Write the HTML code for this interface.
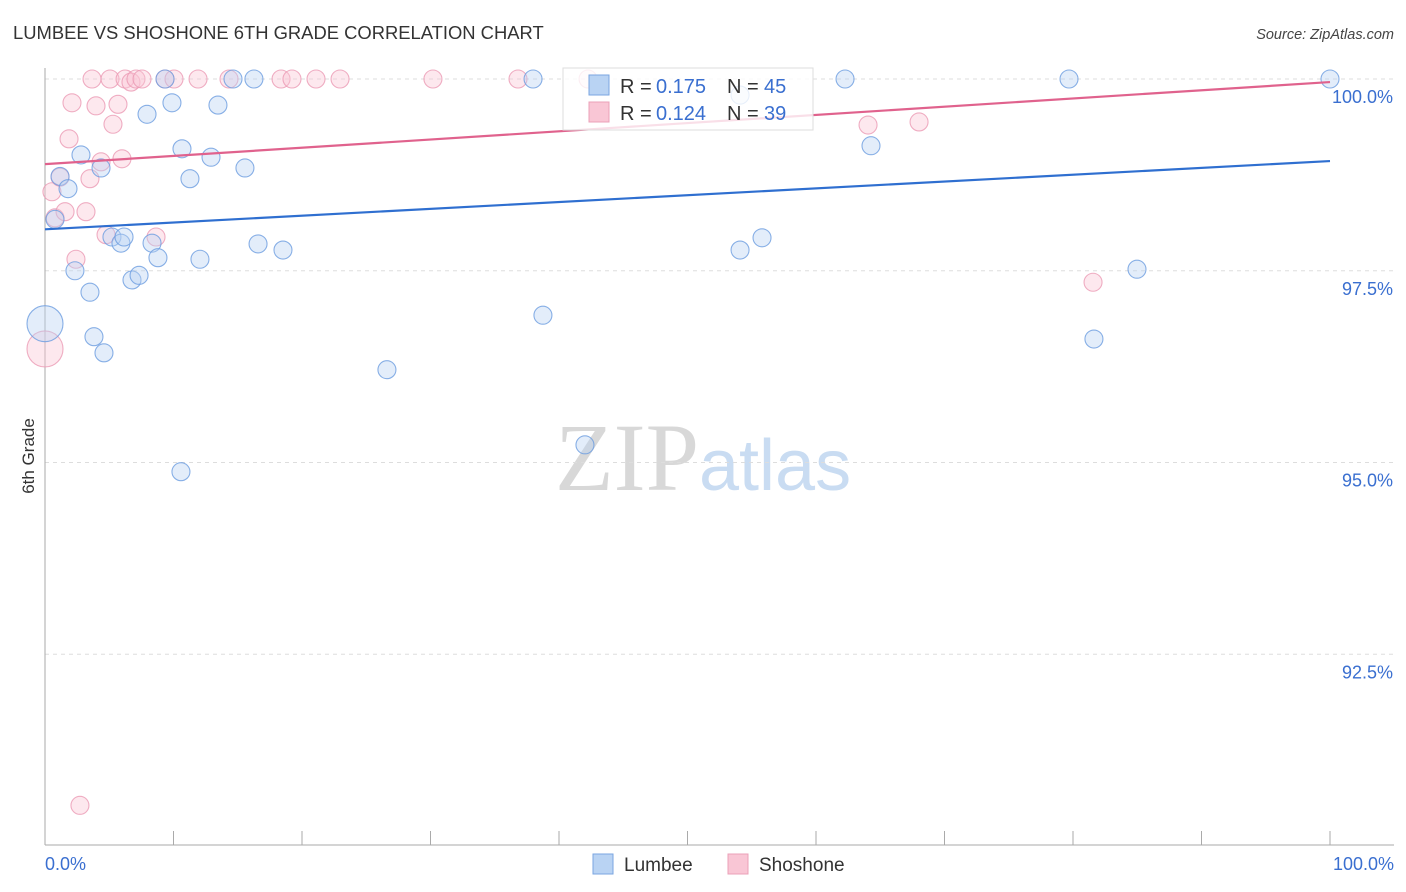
<!DOCTYPE html>
<html><head><meta charset="utf-8"><style>
body{margin:0;background:#fff;font-family:"Liberation Sans",sans-serif;}
svg{display:block}
</style></head><body>
<svg id="chart" width="1406" height="892" xmlns="http://www.w3.org/2000/svg">
<text x="13" y="39" font-size="18.4" fill="#333" font-family="Liberation Sans,sans-serif">LUMBEE VS SHOSHONE 6TH GRADE CORRELATION CHART</text>
<text x="1394" y="39" font-size="14.5" fill="#444" text-anchor="end" font-style="italic">Source: ZipAtlas.com</text>
<text x="555" y="490" font-size="96"><tspan fill="#d8d8d8" font-family="Liberation Serif,serif">ZIP</tspan><tspan fill="#c9dcf2" font-family="Liberation Sans,sans-serif" font-size="72">atlas</tspan></text>
<g id="grid"></g>
<g id="axes"></g>
<g id="pts"></g>
<g id="trend"></g>
<text transform="translate(34,456) rotate(-90)" font-size="17" fill="#333" text-anchor="middle">6th Grade</text>
<g>
<rect x="563" y="68" width="250" height="62" fill="#fff" fill-opacity="0.8" stroke="#ddd"/>
<rect x="589" y="75" width="20" height="20" fill="#b9d3f3" stroke="#7aa6e0"/>
<text x="620" y="93" font-size="20" fill="#333">R =</text><text x="656" y="93" font-size="20" fill="#3a6fd0">0.175</text>
<text x="727" y="93" font-size="20" fill="#333">N =</text><text x="764" y="93" font-size="20" fill="#3a6fd0">45</text>
<rect x="589" y="102" width="20" height="20" fill="#f9c6d5" stroke="#eba0b8"/>
<text x="620" y="120" font-size="20" fill="#333">R =</text><text x="656" y="120" font-size="20" fill="#3a6fd0">0.124</text>
<text x="727" y="120" font-size="20" fill="#333">N =</text><text x="764" y="120" font-size="20" fill="#3a6fd0">39</text>
</g>
<g>
<rect x="593" y="854" width="20" height="20" fill="#b9d3f3" stroke="#7aa6e0"/>
<text x="624" y="871" font-size="19" fill="#333">Lumbee</text>
<rect x="728" y="854" width="20" height="20" fill="#f9c6d5" stroke="#eba0b8"/>
<text x="759" y="871" font-size="19" fill="#333">Shoshone</text>
</g>
</svg>
<script>
const yTicks=[100,97.5,95,92.5];
const yTickLabels=["100.0%","97.5%","95.0%","92.5%"];
const xTickLabels=["0.0%","100.0%"];
const lumbeeX=[0,0.78,1.17,1.79,2.33,2.8,3.5,3.81,4.36,4.59,5.21,5.91,6.15,6.77,7.32,7.94,8.33,8.79,9.34,9.88,10.58,10.66,11.28,12.06,12.92,13.46,14.63,15.56,16.26,16.58,18.52,26.61,37.98,38.75,42.02,54.09,54.09,55.8,62.26,64.28,79.69,81.63,84.98,100];
const lumbeeY=[96.81,98.17,98.73,98.57,97.5,99.01,97.22,96.64,98.84,96.43,97.94,97.86,97.94,97.38,97.44,99.54,97.86,97.67,100,99.69,94.88,99.09,98.7,97.65,98.98,99.66,100,98.84,100,97.85,97.77,96.21,100,96.92,95.23,99.79,97.77,97.93,100,99.13,100,96.61,97.52,100];
const shoshoneX=[0,0.54,0.78,1.17,1.56,1.87,2.1,2.41,2.72,3.19,3.5,3.66,3.97,4.36,4.75,5.06,5.29,5.68,5.99,6.23,6.69,7.08,7.55,8.64,9.34,10.04,11.91,14.32,18.37,19.22,21.09,22.96,30.19,36.81,42.26,64.05,68.02,81.56];
const shoshoneY=[96.48,98.53,98.19,98.72,98.27,99.22,99.69,97.65,90.53,98.27,98.7,100,99.65,98.92,97.97,100,99.41,99.67,98.96,100,99.96,100,100,97.94,100,100,100,100,100,100,100,100,100,100,100,99.4,99.44,97.35];
const lumbeeTrend=[98.04,98.93];
const shoshoneTrend=[98.89,99.96];
const sx=v=>45+v*12.85;
const sy=v=>79+(100-v)*76.7;
const NS="http://www.w3.org/2000/svg";
function mk(tag,attrs,parent){const e=document.createElementNS(NS,tag);for(const k in attrs)e.setAttribute(k,attrs[k]);document.getElementById(parent).appendChild(e);return e;}
yTicks.forEach((t,i)=>{
 const g=mk('line',{x1:45,x2:1394,y1:sy(t),y2:sy(t),stroke:'#ddd','stroke-dasharray':'4,4'},'grid');
 
 
 const l=mk('text',{x:1393,y:sy(t)+24,'font-size':18,fill:'#3a6fd0','text-anchor':'end'},'grid');
 l.textContent=yTickLabels[i];
 
 
});
const ya=mk('line',{x1:45,x2:45,y1:68,y2:845,stroke:'#aaa'},'axes');


const xa=mk('line',{x1:45,x2:1394,y1:845,y2:845,stroke:'#aaa'},'axes');


for(let i=0;i<=10;i++){
 const t=mk('line',{x1:sx(i*10),x2:sx(i*10),y1:831,y2:845,stroke:'#aaa'},'axes');
 
 
}
[[0,'start',45],[100,'end',1394]].forEach((d,i)=>{
 const l=mk('text',{x:d[2],y:870,'font-size':18,fill:'#3a6fd0','text-anchor':d[1]},'axes');
 l.textContent=xTickLabels[i];
 
 
});
function dots(xs,ys,fill,stroke,name){
 xs.forEach((x,i)=>{
  const r=(x===0)?18:9;
  const c=mk('circle',{cx:sx(x),cy:sy(ys[i]),r:r,fill:fill,'fill-opacity':0.4,stroke:stroke,'stroke-width':1.1,'stroke-opacity':0.8},'pts');
  
  
 });
}
dots(shoshoneX,shoshoneY,'#f9c6d5','#eb9ab4','shoshone-point');
dots(lumbeeX,lumbeeY,'#b9d3f3','#6b9ce0','lumbee-point');
const tl1=mk('line',{x1:sx(0),x2:sx(100),y1:sy(lumbeeTrend[0]),y2:sy(lumbeeTrend[1]),stroke:'#2f6fd0','stroke-width':2.2},'trend');


const tl2=mk('line',{x1:sx(0),x2:sx(100),y1:sy(shoshoneTrend[0]),y2:sy(shoshoneTrend[1]),stroke:'#e0628d','stroke-width':2.2},'trend');


</script>
</body></html>
